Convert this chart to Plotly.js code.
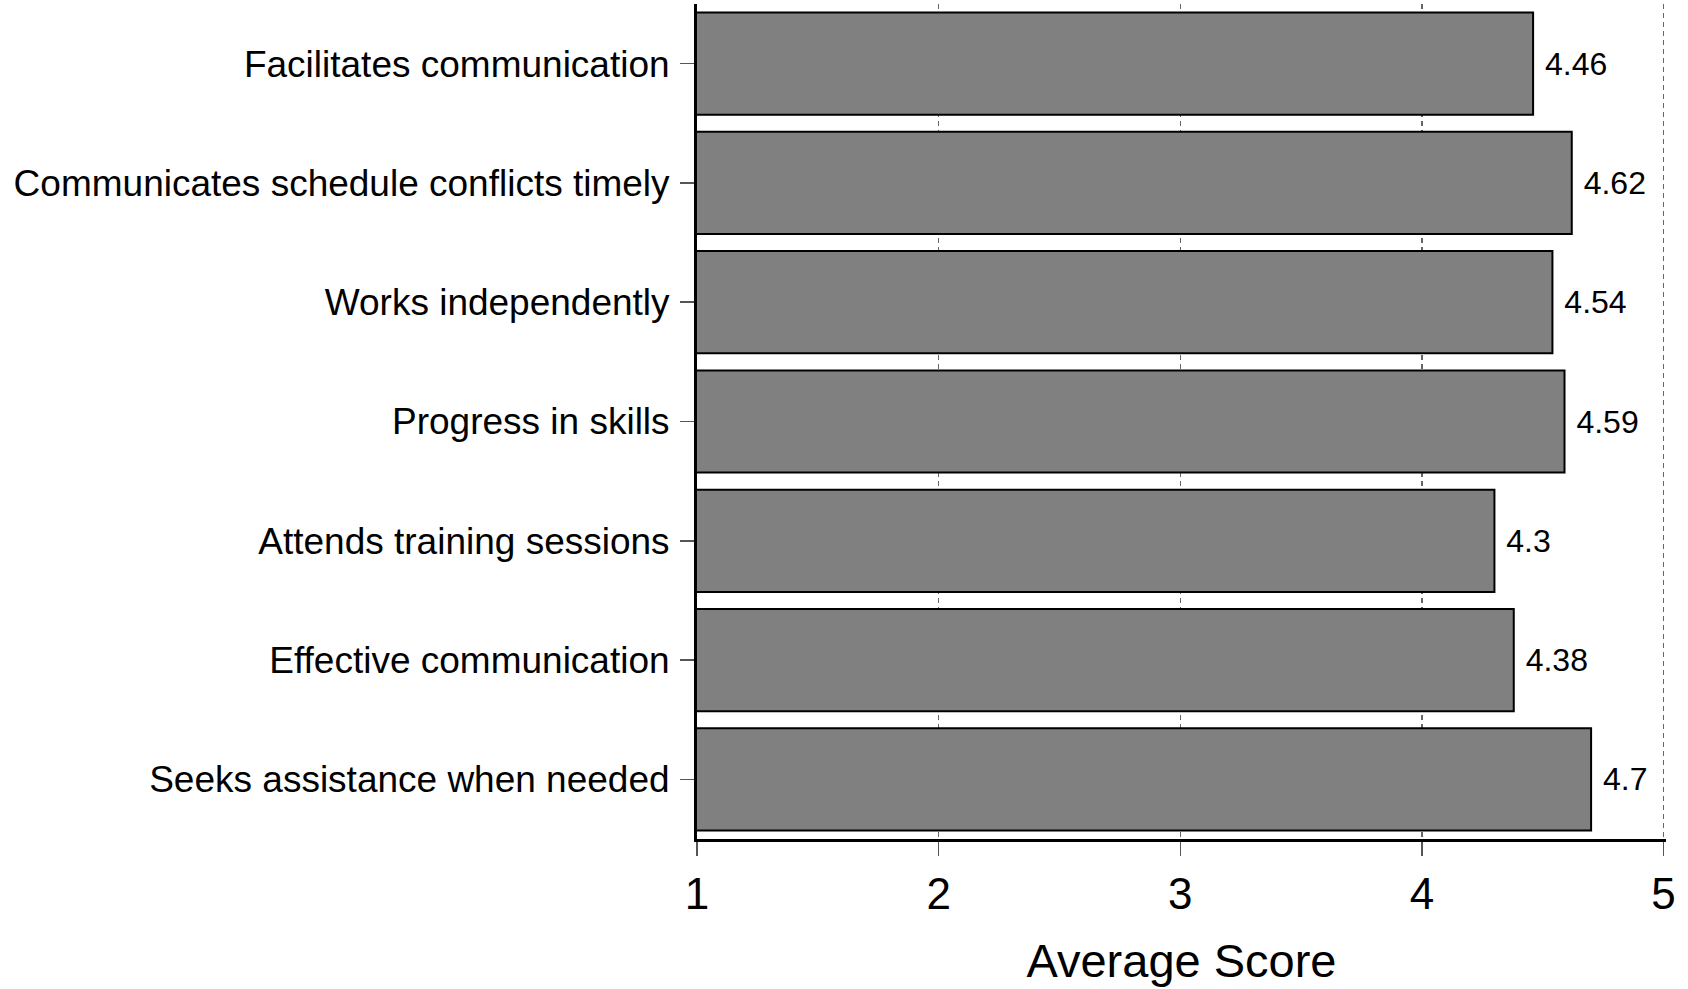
<!DOCTYPE html>
<html>
<head>
<meta charset="utf-8">
<script src="https://cdn.plot.ly/plotly-3.0.1.min.js"></script>
<style>html,body{margin:0;padding:0;background:#fff;}#chart{width:1688px;height:989px;}</style>
</head>
<body>
<div id="chart"></div>
<script>
const categories = [
  "Facilitates communication",
  "Communicates schedule conflicts timely",
  "Works independently",
  "Progress in skills",
  "Attends training sessions",
  "Effective communication",
  "Seeks assistance when needed"
];
const scores = [4.46, 4.62, 4.54, 4.59, 4.3, 4.38, 4.7];
const xTickVals = [1, 2, 3, 4, 5];
const xTitle = "Average Score";

const trace = {
  type: "bar",
  orientation: "h",
  y: categories,
  x: scores,
  base: 0,
  text: scores.map(v => "\u00a0" + v),
  textposition: "outside",
  cliponaxis: false,
  textfont: {size: 32, color: "#000", family: "Liberation Sans, Arial, sans-serif"},
  marker: {color: "#808080", line: {color: "#000", width: 2}},
  hoverinfo: "none"
};

const layout = {
  width: 1688,
  height: 989,
  margin: {l: 697, r: 22, t: 4, b: 150},
  paper_bgcolor: "#fff",
  plot_bgcolor: "#fff",
  font: {family: "Liberation Sans, Arial, sans-serif", color: "#000"},
  bargap: 0.143,
  showlegend: false,
  xaxis: {
    range: [1, 5.01],
    tickvals: xTickVals,
    ticktext: xTickVals.map(String),
    showline: true,
    linecolor: "#000",
    linewidth: 3,
    ticks: "outside",
    ticklen: 14,
    tickwidth: 1.5,
    tickcolor: "#555",
    tickfont: {size: 44},
    showgrid: true,
    gridcolor: "#666",
    gridwidth: 1.5,
    griddash: "5px,4px",
    zeroline: false,
    title: {text: xTitle, font: {size: 47}, standoff: 28}
  },
  yaxis: {
    range: [6.5, -0.5],
    showline: true,
    linecolor: "#000",
    linewidth: 3,
    ticks: "outside",
    ticklen: 14,
    tickwidth: 1.5,
    tickcolor: "#555",
    tickfont: {size: 37},
    ticklabelstandoff: 3,
    showgrid: false,
    zeroline: false
  }
};

Plotly.newPlot("chart", [trace], layout, {staticPlot: true, displayModeBar: false});
</script>
</body>
</html>
